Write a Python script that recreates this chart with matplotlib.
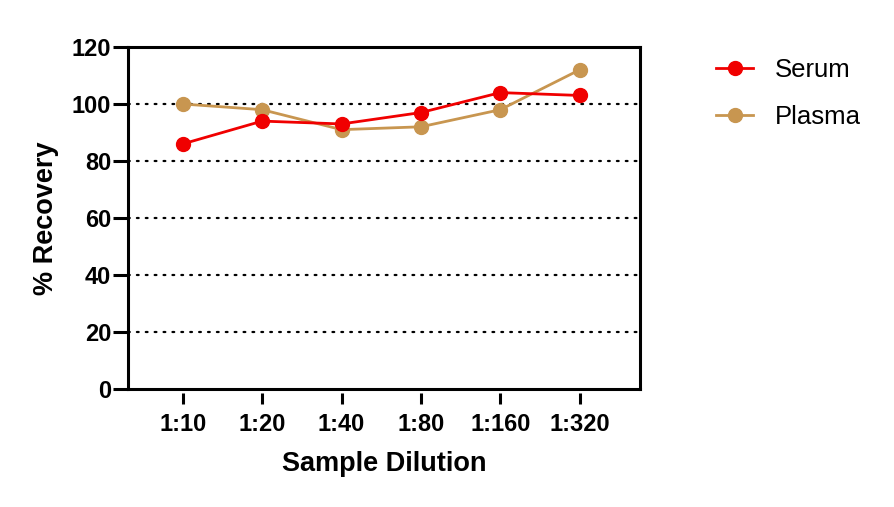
import numpy as np
import matplotlib.pyplot as plt

plt.rcParams['font.family'] = ['Liberation Sans', 'DejaVu Sans']

dilutions = ['1:10', '1:20', '1:40', '1:80', '1:160', '1:320']
serum = [86, 94, 93, 97, 104, 103]
plasma = [100, 98, 91, 92, 98, 112]
yticks = [0, 20, 40, 60, 80, 100, 120]
grid_levels = [20, 40, 60, 80, 100]

fig = plt.figure(figsize=(8.95, 5.07), dpi=100)
ax = fig.add_axes([128/895, 1-389/507, (640-128)/895, (389-47)/507])

x = np.arange(len(dilutions))
for g in grid_levels:
    ax.axhline(g, color='black', lw=1.6, linestyle=(0, (0.8, 3.2)), dash_capstyle='round', zorder=1)

ax.plot(x, plasma, color='#C89650', lw=2, marker='o', ms=10, label='Plasma', zorder=3)
ax.plot(x, serum, color='#F00000', lw=2, marker='o', ms=10, label='Serum', zorder=4)

ax.set_xlim(-0.69, 5.76)
ax.set_ylim(0, 120)
ax.set_yticks(yticks)
ax.set_xticks(x)
ax.set_xticklabels(dilutions)

for s in ['left', 'top', 'right']:
    ax.spines[s].set_linewidth(2.2)
ax.spines['bottom'].set_position(('outward', 3))
ax.spines['bottom'].set_visible(False)
ax.axhline(0, color='black', lw=2.2, clip_on=False, zorder=5)

ax.tick_params(axis='y', direction='out', length=11, width=2.2, labelsize=17, pad=1)
ax.tick_params(axis='x', direction='out', length=8, width=2.2, labelsize=17, pad=6)
for lab in ax.get_xticklabels() + ax.get_yticklabels():
    lab.set_fontweight('bold')

ax.set_xlabel('Sample Dilution', fontsize=19.5, fontweight='bold', labelpad=11)
ax.set_ylabel('% Recovery', fontsize=19.5, fontweight='bold', labelpad=9.5)

h, l = ax.get_legend_handles_labels()
fig.legend(h[::-1], l[::-1], loc='upper left', bbox_to_anchor=(716/895, 1-58/507), frameon=False,
           fontsize=18.5, handlelength=1.45, labelspacing=0.9, handletextpad=0.85,
           borderpad=0, borderaxespad=0)

fig.savefig('out.png', dpi=100)
